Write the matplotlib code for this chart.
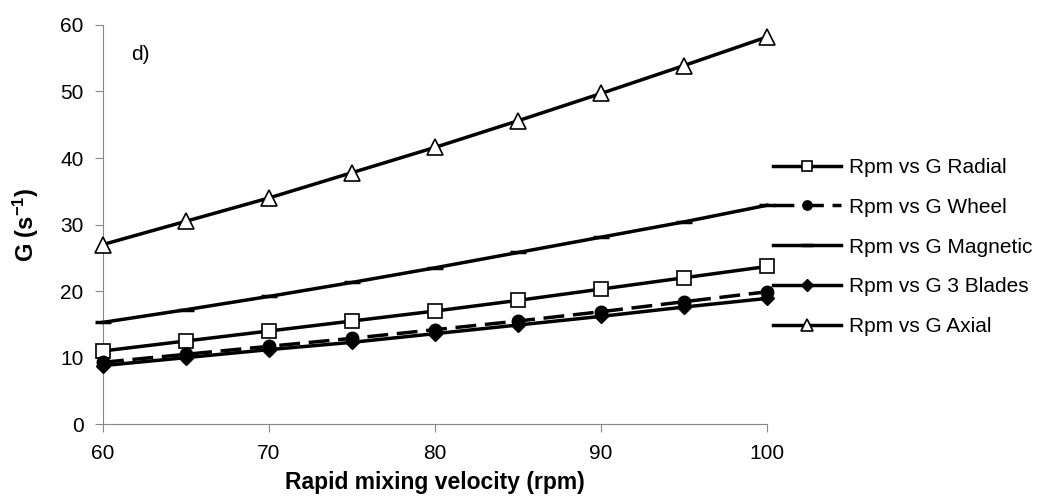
import matplotlib
matplotlib.use("Agg")
import matplotlib.pyplot as plt

plt.rcParams['font.family'] = ['Liberation Sans', 'DejaVu Sans']
plt.rcParams['mathtext.default'] = 'regular'

rpm = [60, 65, 70, 75, 80, 85, 90, 95, 100]
radial = [11.0, 12.5, 14.0, 15.5, 17.0, 18.6, 20.3, 22.0, 23.7]
wheel = [9.3, 10.5, 11.7, 12.9, 14.2, 15.5, 16.9, 18.4, 19.9]
magnetic = [15.3, 17.2, 19.2, 21.3, 23.5, 25.8, 28.1, 30.4, 32.9]
blades = [8.8, 10.0, 11.2, 12.3, 13.6, 14.9, 16.2, 17.6, 18.9]
axial = [27.0, 30.5, 34.0, 37.8, 41.6, 45.6, 49.7, 53.9, 58.2]

fig = plt.figure(figsize=(10.44, 4.99), dpi=100)
ax = fig.add_axes([0.0987, 0.150, 0.636, 0.800])

lw = 2.5
common = dict(color='black', lw=lw, clip_on=False, zorder=3)
ax.plot(rpm, radial, marker='s', ms=10, mfc='white', mec='black', mew=1.2, label='Rpm vs G Radial', **common)
ax.plot(rpm, wheel, ls=(0, (6, 2.5)), marker='o', ms=9, mfc='black', mec='black', label='Rpm vs G Wheel', **common)
ax.plot(rpm, magnetic, marker='_', ms=11, mew=2.5, mec='black', label='Rpm vs G Magnetic', **common)
ax.plot(rpm, blades, marker='D', ms=7.5, mfc='black', mec='black', label='Rpm vs G 3 Blades', **common)
ax.plot(rpm, axial, marker='^', ms=11, mfc='white', mec='black', mew=1.2, label='Rpm vs G Axial', **common)

ax.set_xlim(60, 100)
ax.set_ylim(0, 60)
ax.set_xticks(range(60, 101, 10))
ax.set_yticks(range(0, 61, 10))
ax.tick_params(axis='both', labelsize=15, color='#888888', length=6, direction='out')
ax.tick_params(axis='x', pad=8)
ax.tick_params(axis='y', pad=8)
ax.spines['top'].set_visible(False)
ax.spines['right'].set_visible(False)
ax.spines['left'].set_color('#888888')
ax.spines['bottom'].set_color('#888888')

ax.set_xlabel('Rapid mixing velocity (rpm)', fontsize=16.5, fontweight='bold', labelpad=6)
ax.set_ylabel('G (s$^{-1}$)', fontsize=17, fontweight='bold', labelpad=14)
ax.text(61.7, 55.5, 'd)', fontsize=15, va='center', ha='left')

leg = fig.legend(loc='center left', bbox_to_anchor=(0.740, 0.505), frameon=False,
                 fontsize=15, handlelength=3.3, labelspacing=1.0, handletextpad=0.38,
                 markerscale=0.75, borderaxespad=0, borderpad=0)

fig.savefig('out.png', dpi=100)
